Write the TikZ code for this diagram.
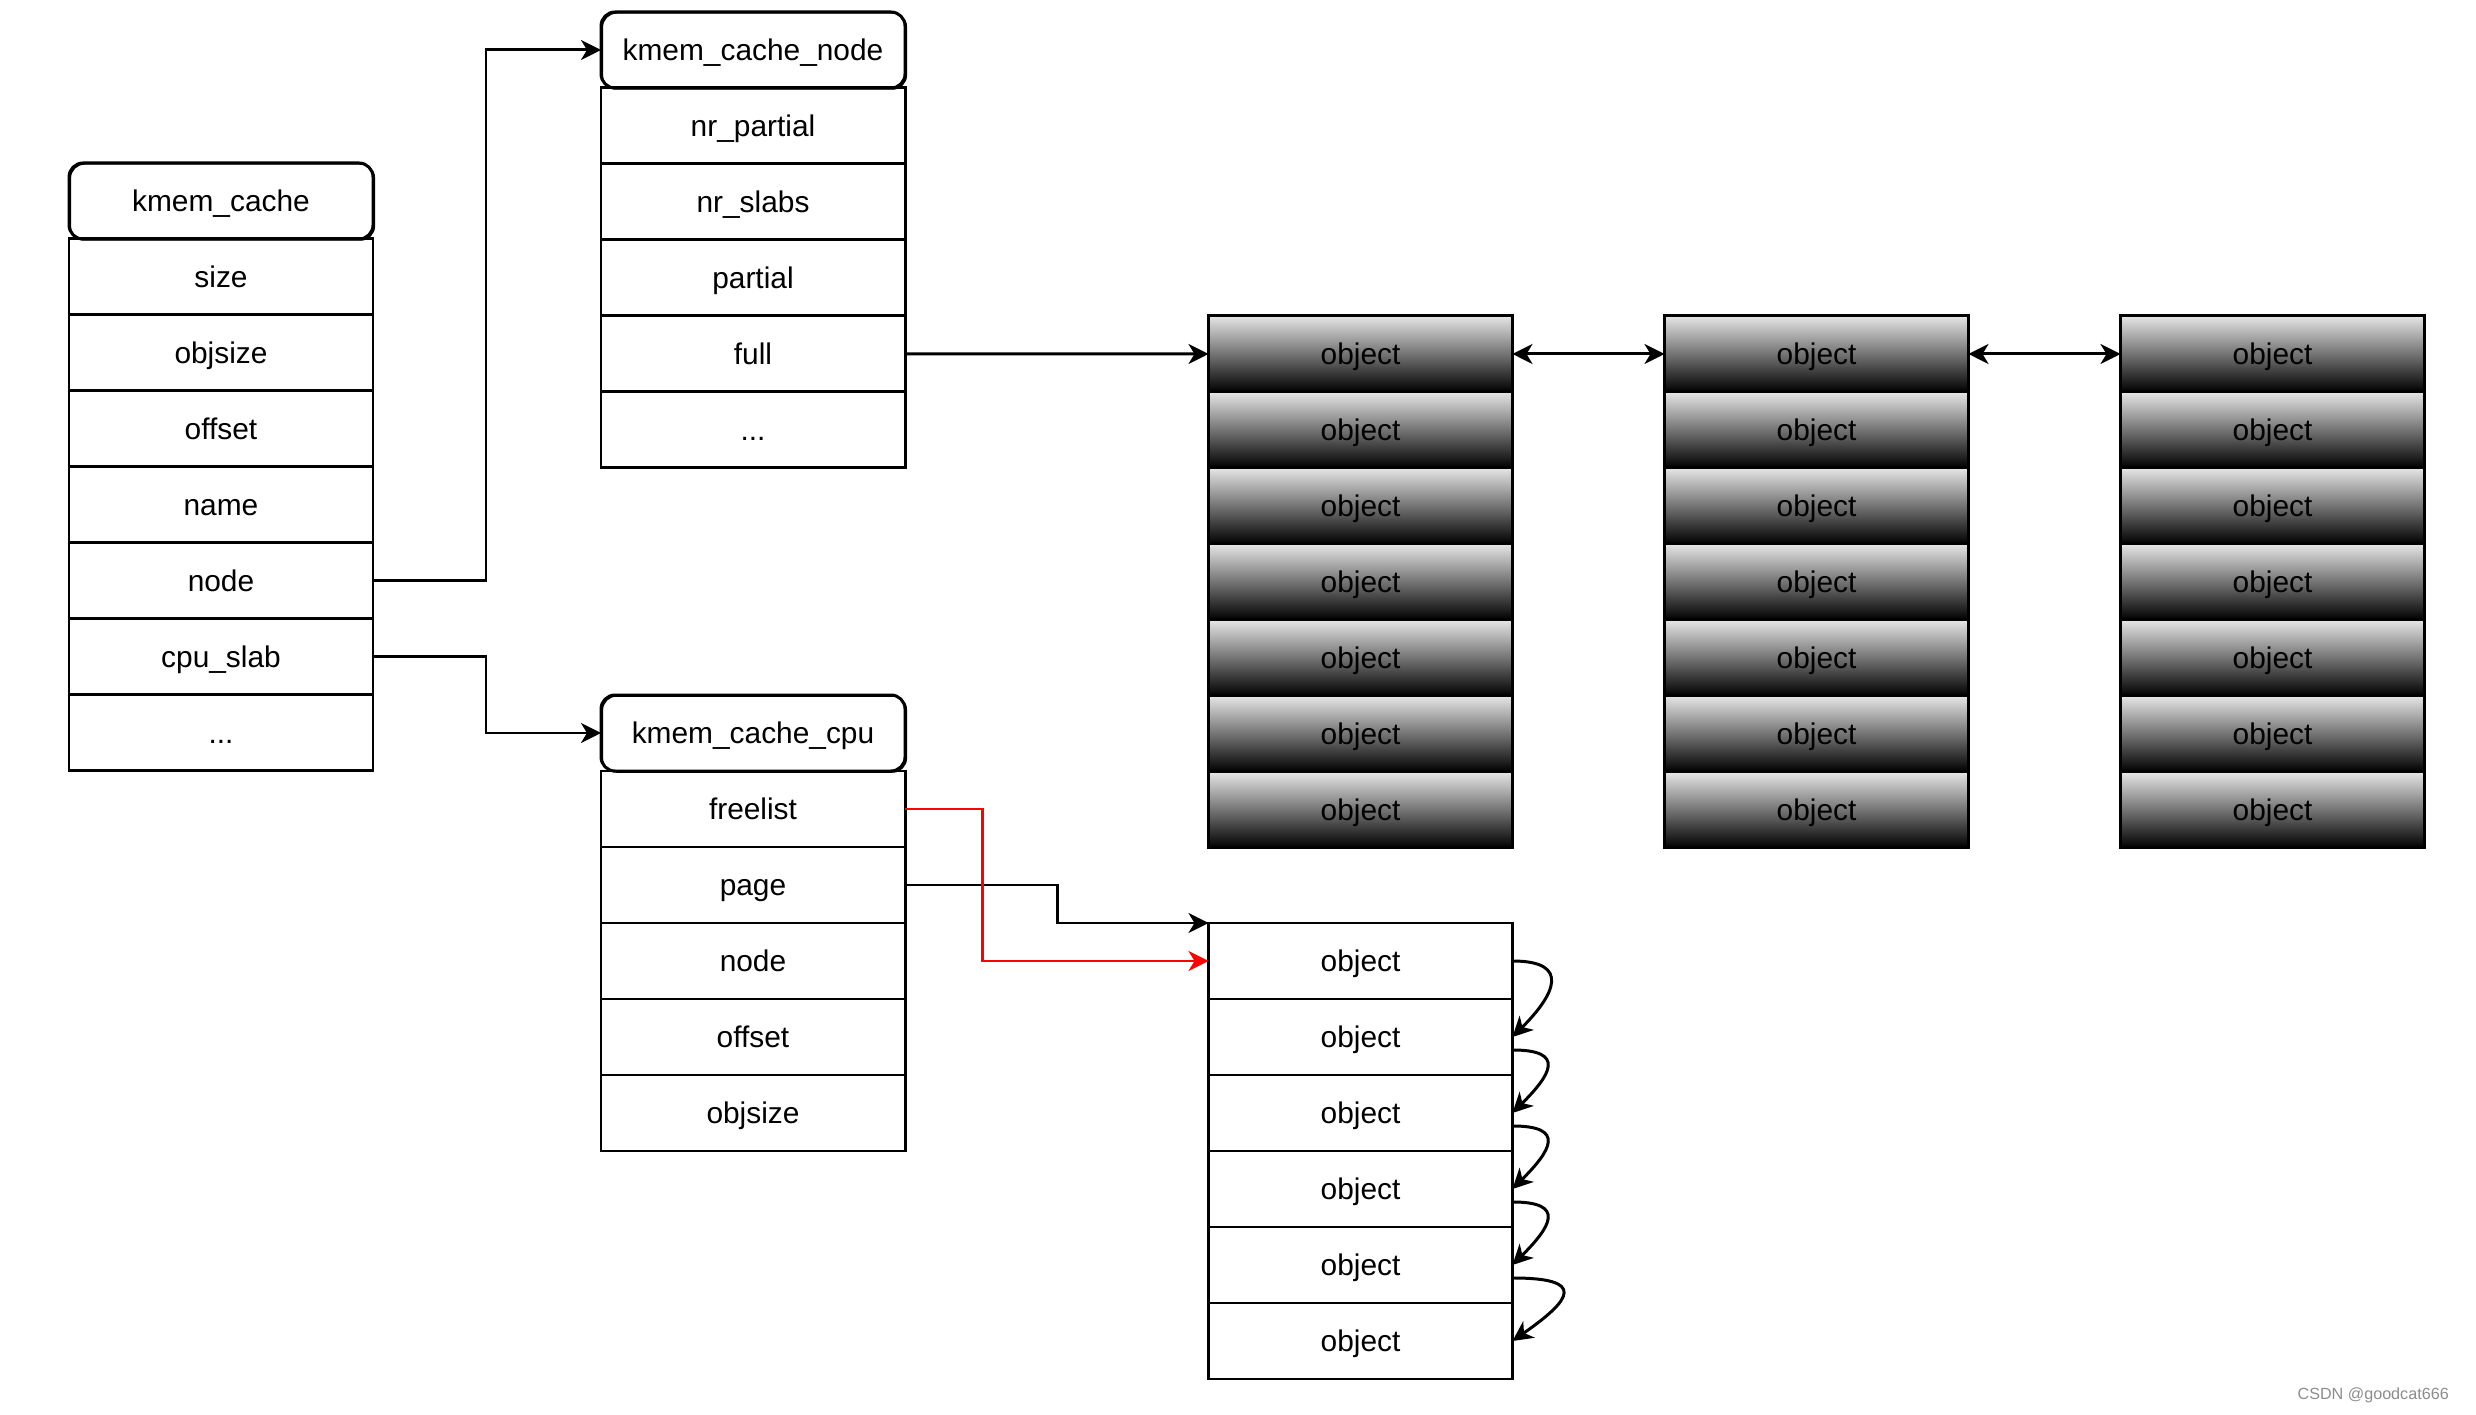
\documentclass[tikz,border=0pt]{standalone}
\usepackage{fontspec}
\setmainfont{Liberation Sans}
\usetikzlibrary{positioning,
	calc,
	arrows.meta}

\begin{document}
\begin{tikzpicture}[
		font=\fontsize{8.5}{10}\selectfont,
		line width=0.85pt,
		>={Stealth[length=2mm,width=2mm,inset=0.6mm]},
		field/.style={draw, minimum width=3.04cm, minimum height=0.76cm, inner sep=0pt, outer sep=0pt,
			text height=0.25cm, text depth=0.03cm},
		header/.style={field, rounded corners=0.14cm,
			postaction={draw, line width=0.4pt, transform canvas={shift={(0.4pt,-0.3pt)}}}},
		slab/.style={field, top color=black!10, bottom color=black}
	]
	\useasboundingbox (0,0) rectangle (24.76,14.14);

	% kmem_cache
	\node[header] (kc0) at (2.21,12.13) {kmem\_cache};
	\foreach \t [count=\i, remember=\i as \p (initially 0)] in {size,objsize,offset,name,node,cpu\_slab}
		\node[field, below=0pt of kc\p] (kc\i) {\t};
	\node[field, below=0pt of kc6] (kc7) {...};

	% kmem_cache_node
	\node[header] (kcn0) at (7.53,13.64) {kmem\_cache\_node};
	\foreach \t [count=\i, remember=\i as \p (initially 0)] in {nr\_partial,nr\_slabs,partial,full}
		\node[field, below=0pt of kcn\p] (kcn\i) {\t};
	\node[field, below=0pt of kcn4] (kcn5) {...};

	% kmem_cache_cpu
	\node[header] (kcc0) at (7.53,6.81) {kmem\_cache\_cpu};
	\foreach \t [count=\i, remember=\i as \p (initially 0)] in {freelist,page,node,offset,objsize}
		\node[field, below=0pt of kcc\p] (kcc\i) {\t};

	% slabs on the full list
	\foreach \c/\x in {a/13.605, b/18.165, c/22.725} {
		\node[slab] (o\c1) at (\x,10.60) {object};
		\foreach \i [remember=\i as \p (initially 1)] in {2,...,7}
			\node[slab, below=0pt of o\c\p] (o\c\i) {object};
	}

	% cpu slab
	\node[field] (bo1) at (13.605,4.53) {object};
	\foreach \i [remember=\i as \p (initially 1)] in {2,...,6}
		\node[field, below=0pt of bo\p] (bo\i) {object};

	\draw[->] (kc5.east) -- ++(1.13,0) |- (kcn0.west);
	\draw[->] (kc6.east) -- ++(1.13,0) |- (kcc0.west);
	\draw[->] (kcn4.east) -- (oa1.west);
	\draw[<->] (oa1.east) -- (ob1.west);
	\draw[<->] (ob1.east) -- (oc1.west);
	\draw[->] (kcc2.east) -- ++(1.52,0) |- (bo1.north west);
	\draw[->, red] (kcc1.east) -- ++(0.77,0) |- (bo1.west);

	% freelist chain
	\draw[->] (bo1.east) to[out=0, in=45, looseness=2] (bo2.east);
	\foreach \i/\j in {2/3,3/4,4/5}
		\draw[->] ([yshift=-1.3mm]bo\i.east) to[out=0, in=45, looseness=2.2] (bo\j.east);
	\draw[->] ([yshift=-1.3mm]bo5.east) to[out=0, in=35, looseness=3] (bo6.east);

	\node[text=black!45, font=\fontsize{4.6}{5}\selectfont, anchor=east] (mark) at (24.62,0.19) {CSDN @goodcat666};
\end{tikzpicture}
\end{document}
